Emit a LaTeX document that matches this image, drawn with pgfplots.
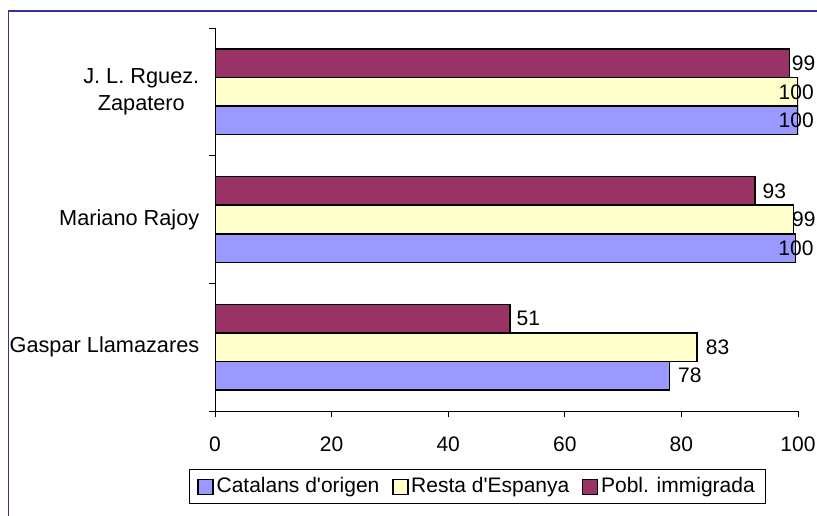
\documentclass[border=0pt]{standalone}
\usepackage{pgfplots}
\usepackage{pgfplotstable}
\pgfplotsset{compat=1.18}
\usepackage{fontspec}
\setmainfont{Liberation Sans}
\definecolor{cblue}{HTML}{9999FF}
\definecolor{cyellow}{HTML}{FFFFCC}
\definecolor{cpurple}{HTML}{993366}
\definecolor{frameblue}{HTML}{333399}

% lab column: shift in px / printed label
\pgfplotstableread{
y x lab
0 78.0 7.6/78
1 99.6 -18/100
2 100 -20/100
}\catalans
\pgfplotstableread{
y x lab
0 82.7 8/83
1 99.2 -2/99
2 100 -20/100
}\resta
\pgfplotstableread{
y x lab
0 50.6 6/51
1 92.6 7/93
2 98.5 2/99
}\pobl

\def\labi#1/#2\relax{\kern\dimexpr#1pt*3/4\relax#2}
\newcommand\lab{\edef\labtmp{\pgfplotspointmeta}\expandafter\labi\labtmp\relax}

\begin{document}
\begin{tikzpicture}
\useasboundingbox (0,0) rectangle (612.75pt,386.25pt);
\draw[frameblue, line width=1pt] (6.2pt,-2pt) -- (6.2pt,378pt) -- (615pt,378pt);
\begin{axis}[
  at={(161.25pt,78pt)}, anchor=south west,
  scale only axis, width=437.25pt, height=287.25pt,
  xbar, bar width=0.224,
  xmin=0, xmax=100, ymin=-0.5, ymax=2.5,
  axis x line*=bottom, axis y line*=left,
  axis line style={line width=0.75pt, -},
  tick align=outside,
  major tick length=4.5pt,
  tick style={line width=0.75pt, black},
  xtick={0,20,...,100},
  ytick={-0.5,0.5,1.5,2.5}, yticklabels={},
  extra y ticks={0,1,2},
  extra y tick labels={Gaspar Llamazares, Mariano Rajoy, {J. L. Rguez.\\Zapatero}},
  extra y tick style={major tick length=0pt, yticklabel style={align=center, xshift=-8.25pt, font=\fontsize{16.3}{20.25}\selectfont}},
  /pgf/number format/assume math mode=true,
  tick label style={font=\fontsize{15.75}{20.25}\selectfont},
  xticklabel style={yshift=-11.25pt},
  point meta=explicit symbolic,
  nodes near coords={\lab},
  every node near coord/.append style={anchor=west, inner sep=0pt, font=\fontsize{15.75}{18}\selectfont, text=black},
  legend columns=3,
  legend image code/.code={\draw[#1, line width=1.1pt] (0pt,-5.6pt) rectangle (11.25pt,5.6pt);},
  legend style={at={(-0.0446,-0.1984)}, anchor=west, draw=black, line width=0.75pt,
    inner ysep=5.25pt, inner xsep=6pt,
    font=\fontsize{15.75}{18}\selectfont,
    nodes={inner xsep=2pt, inner ysep=0pt, text height=11.5pt, text depth=3.5pt},
    /tikz/every even column/.append style={column sep=7.5pt}},
]
\addplot[fill=cblue, draw=black, line width=1.1pt, bar shift=-0.224] table[x=x, y=y, meta=lab] {\catalans};
\addplot[fill=cyellow, draw=black, line width=1.1pt, bar shift=0] table[x=x, y=y, meta=lab] {\resta};
\addplot[fill=cpurple, draw=black, line width=1.1pt, bar shift=0.224] table[x=x, y=y, meta=lab] {\pobl};
\legend{Catalans d\textquotesingle origen, Resta d\textquotesingle Espanya, Pobl. immigrada}
\end{axis}
\end{tikzpicture}
\end{document}
